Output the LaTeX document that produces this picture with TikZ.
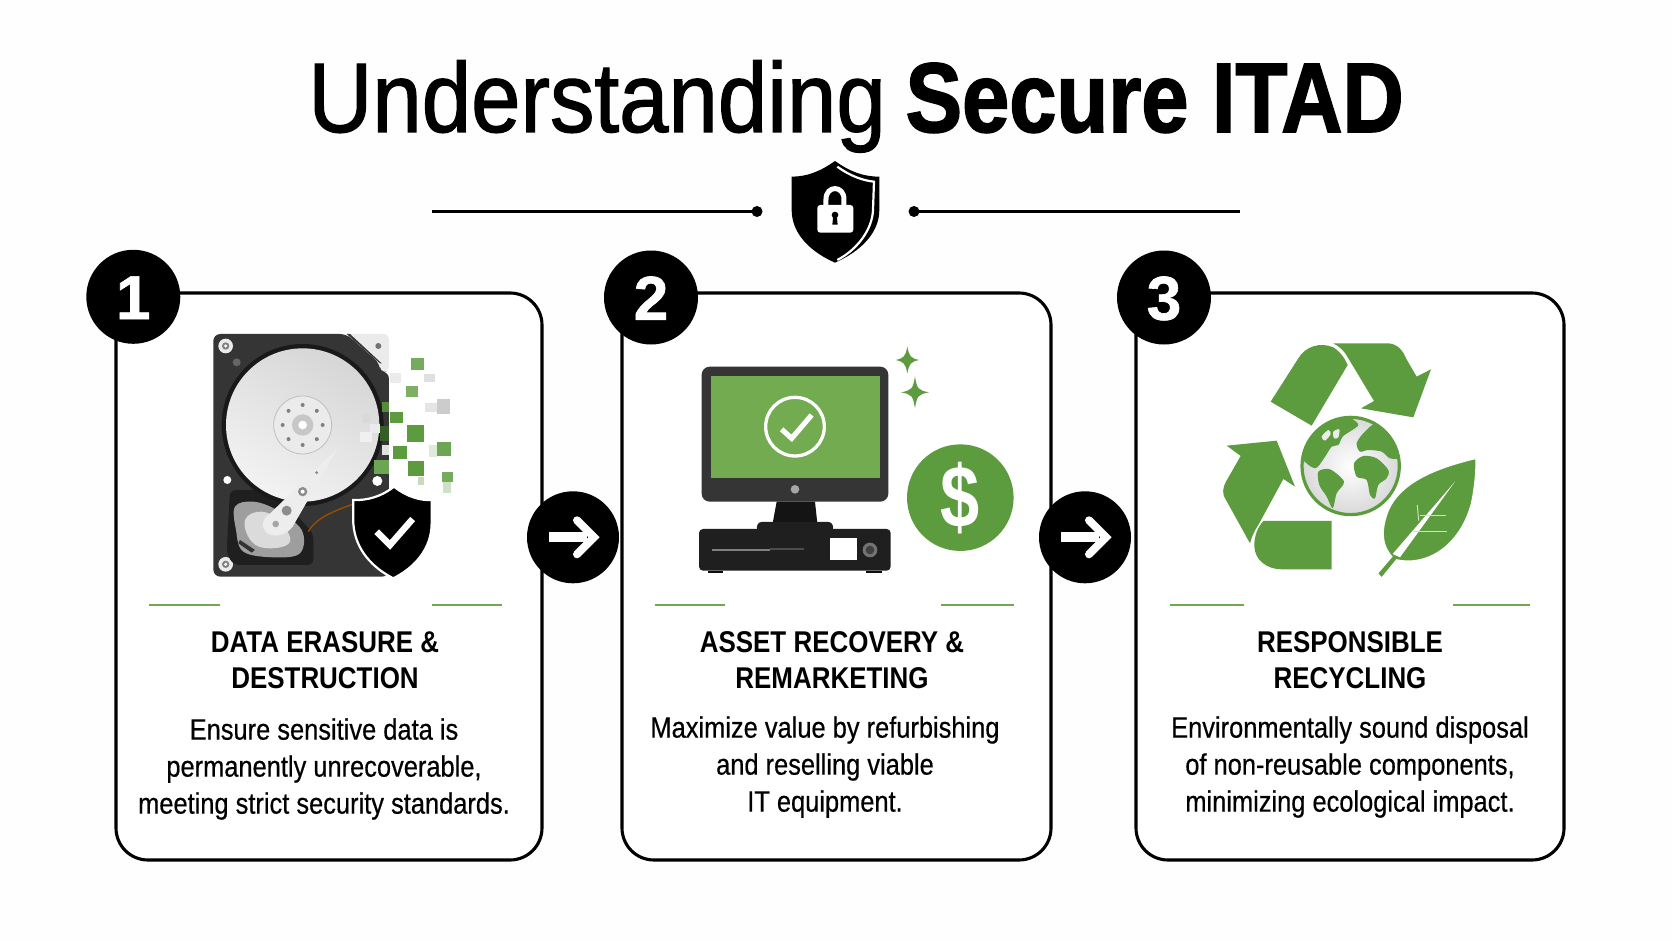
\documentclass[tikz,border=0pt]{standalone}
\usepackage{fontspec}
\setmainfont{Liberation Sans}
\newfontfamily\titlea[FakeStretch=0.897,FakeBold=1.2]{Liberation Sans}
\newfontfamily\titleb[FakeStretch=0.857,FakeBold=1.6]{Liberation Sans Bold}
\newfontfamily\headf[FakeStretch=0.865]{Liberation Sans Bold}
\newfontfamily\bodyf[FakeStretch=0.862,FakeBold=0.5]{Liberation Sans}
\newfontfamily\dolf[FakeStretch=0.80]{Liberation Sans Bold}
\newfontfamily\numf[FakeBold=1]{Liberation Sans Bold}
\usetikzlibrary{calc}
\definecolor{grn}{HTML}{5C9C3F}
\definecolor{scr}{HTML}{72AB50}
\definecolor{rule}{HTML}{6FA84F}
\definecolor{dark}{HTML}{353535}
\tikzset{
  cardbox/.style={draw=black,line width=3.1pt,rounded corners=32pt,fill=white,minimum width=426pt,minimum height=567pt,inner sep=0pt},
  numdisc/.style={circle,fill=black,text=white,minimum size=94pt,inner sep=0pt,text height=44.5pt,text depth=0pt,font=\numf\fontsize{62}{62}\selectfont},
  arrowdisc/.style={circle,fill=black,minimum size=92pt,inner sep=0pt},
  grule/.style={draw=rule,line width=2.2pt},
  headtxt/.style={align=center,inner sep=0pt,font=\headf\fontsize{30}{36}\selectfont},
  bodytxt/.style={align=center,inner sep=0pt,font=\bodyf\fontsize{29.5}{37}\selectfont},
  wline/.style={draw=white,line cap=round,line join=round},
}
\begin{document}
\begin{tikzpicture}[x=1pt,y=-1pt]
\useasboundingbox (0,0) rectangle (1672,941);
\fill[white!99.5!black] (0,0) rectangle (1672,941);

% title
\node[inner sep=0pt,anchor=base] (title) at (856,132) {\fontsize{99}{99}\selectfont\titlea Understanding\hspace{-5pt} {\titleb Secure ITAD}};

% top divider
\coordinate (la) at (432,211.5); \coordinate (lb) at (757,211.5);
\coordinate (ra) at (914,211.5); \coordinate (rb) at (1240,211.5);
\draw[line width=2.4pt] (la) -- (lb); \draw[line width=2.4pt] (ra) -- (rb);
\fill (lb) circle[radius=5.5]; \fill (ra) circle[radius=5.5];
\begin{scope}[shift={(700,150)},scale=0.3333]
\fill (405,33) .. controls (360,65) and (320,80) .. (275,80) -- (275,180) .. controls (275,250) and (330,305) .. (405,338) .. controls (480,305) and (538,250) .. (538,180) -- (538,80) .. controls (490,80) and (450,65) .. (405,33) -- cycle;
\draw[white,line width=2.2pt] (412,50) .. controls (450,78) and (490,92) .. (522,95) -- (519,180) .. controls (517,240) and (470,300) .. (412,330);
\fill[white,rounded corners=3pt] (352,165) rectangle (460,248);
\draw[white,line width=5pt] (378,170) -- (378,148) .. controls (378,105) and (432,105) .. (432,148) -- (432,170);
\fill (405,195) circle[radius=10];
\fill (400,195) -- (410,195) -- (413,224) -- (397,224) -- cycle;
\end{scope}

% cards
\node[cardbox] (card1) at (329,576.5) {};
\node[cardbox,minimum width=429pt] (card2) at (836.5,576.5) {};
\node[cardbox,minimum width=428pt] (card3) at (1350,576.5) {};

% green rules
\draw[grule] (149,605) -- (220,605); \draw[grule] (432,605) -- (502,605);
\draw[grule] (655,605) -- (725,605); \draw[grule] (941,605) -- (1014,605);
\draw[grule] (1170,605) -- (1244,605); \draw[grule] (1453,605) -- (1530,605);

% icon 1: hard disk
\begin{scope}[shift={(190,320)},scale=0.3333]
\fill[dark,rounded corners=7pt] (70,42) -- (470,42) -- (570,130) -- (570,155) -- (597,155) -- (597,770) -- (70,770) -- cycle;
\fill[black!8,rounded corners=5pt] (470,42) -- (597,42) -- (597,155) -- (570,155) -- (570,130) -- cycle;
\fill[dark] (470,42) -- (480,42) -- (575,130) -- (570,130) -- cycle;
\fill[black!55] (565,78) circle[radius=9];
\fill[white!92!black] (107,78) circle[radius=22]; \fill[black!50] (107,78) circle[radius=11]; \fill[white] (107,78) circle[radius=5];
\fill[white!92!black] (107,733) circle[radius=22]; \fill[black!50] (107,733) circle[radius=11]; \fill[white] (107,733) circle[radius=5];
\fill[white] (112,480) circle[radius=12];
\fill[black!60] (140,127) circle[radius=12];
% well
\fill[black!88,rounded corners=6pt] (120,510) -- (250,510) -- (370,640) -- (370,735) -- (130,735) -- (110,700) -- cycle;
\fill[black!90] (338,315) circle[radius=243];
\shade[left color=black!16,right color=black!5,shading angle=-30] (338,315) circle[radius=230];
\fill[white!92!black] (338,315) circle[radius=87];
\draw[black!25,line width=0.8pt] (338,315) circle[radius=87];
\foreach \a in {0,45,...,315} \fill[black!50] ($(338,315)+(\a:60)$) circle[radius=6];
\fill[black!22] (338,315) circle[radius=32];
\fill[white] (338,315) circle[radius=13];
% green pixels fading over the right edge
\fill[white] (597,150) rectangle (610,480);
\foreach \xa/\ya/\xb/\yb/\c in {
 510/335/545/365/black!6,540/312/570/340/black!8,518/283/540/310/black!15,
 575/375/597/405/black!12,
 575/245/597/275/grn!90!black,570/318/597/362/grn!60!black,552/420/597/462/grn!90,
 662/115/702/150/grn!85,648/198/685/232/grn!80,600/275/640/310/grn,650/316/702/365/grn,
 610/378/650/418/grn,655/422/703/468/grn,740/367/782/408/grn!90,755/455/788/485/grn!85,
 600/160/632/188/black!8,702/163/735/185/black!12,742/238/780/283/black!20,706/250/742/275/black!10,
 718/375/740/410/grn!20,758/485/782/520/grn!30,685/470/703/495/grn!35}
  \fill[\c] (\xa,\ya) rectangle (\xb,\yb);
% actuator
\fill[black!38] plot[smooth cycle,tension=.6] coordinates {(135,560) (190,545) (260,570) (335,630) (330,700) (250,712) (160,695) (138,630)};
\fill[black!14] plot[smooth cycle,tension=.7] coordinates {(165,600) (215,575) (270,605) (300,665) (240,685) (185,665)};
\fill[black!80] (150,660) -- (195,690) -- (185,698) -- (145,670) -- cycle;
\fill[white!93!black] (443,385) -- (225,595) .. controls (205,625) and (235,655) .. (270,645) .. controls (290,640) and (300,630) .. (308,620) -- cycle;
\fill[black!45] (338,515) circle[radius=14]; \fill[white] (338,515) circle[radius=6];
\fill[black!45] (290,572) circle[radius=15];
\fill[black!35] (257,612) circle[radius=10];
\fill[black!45] (380,458) circle[radius=5];
\draw[orange!60!black,line width=1.4pt] (355,635) .. controls (380,590) and (440,570) .. (510,545);
\fill[white] (562,483) circle[radius=15];
% shield with check
\draw[draw=white,line width=2.2pt,fill=black] (612,500) .. controls (575,530) and (530,542) .. (490,540) -- (490,610) .. controls (495,690) and (550,745) .. (610,775) .. controls (670,745) and (725,690) .. (725,610) -- (725,540) .. controls (690,542) and (650,530) .. (612,500) -- cycle;
\draw[wline,line width=6.5pt,line cap=butt,line join=miter] (560,635) -- (600,675) -- (668,597);
\end{scope}

% icon 2: computer
\begin{scope}[shift={(680,330)},scale=0.3333]
\fill[dark,rounded corners=8pt] (65,110) rectangle (625,515);
\fill[scr] (92,138) rectangle (600,443);
\draw[white,line width=3.3pt] (345,290) circle[radius=88];
\draw[wline,line width=5.2pt,line cap=butt,line join=miter] (305,298) -- (335,325) -- (395,255);
\fill[black!35] (345,478) circle[radius=13];
\fill[black!92] (290,515) -- (405,515) -- (412,580) -- (278,580) -- cycle;
\fill[black!88,rounded corners=3pt] (228,600) -- (235,576) -- (455,576) -- (462,600) -- cycle;
\fill[black!88,rounded corners=4pt] (57,597) rectangle (632,722);
\fill[black!95] (85,722) rectangle (130,728); \fill[black!95] (558,722) rectangle (605,728);
\draw[black!50,line width=1.4pt] (97,660) -- (270,660);
\draw[black!70,line width=2pt] (270,657) -- (372,657);
\fill[white] (450,625) rectangle (530,690);
\fill[black!55] (570,660) circle[radius=22]; \fill[black!75] (570,660) circle[radius=13];
\foreach \cx/\cy/\w/\h in {682/90/35/40,705/187/42/48}
  \fill[grn] (\cx,\cy-\h) .. controls (\cx+6,\cy-10) and (\cx+10,\cy-6) .. (\cx+\w,\cy) .. controls (\cx+10,\cy+6) and (\cx+6,\cy+10) .. (\cx,\cy+\h) .. controls (\cx-6,\cy+10) and (\cx-10,\cy+6) .. (\cx-\w,\cy) .. controls (\cx-10,\cy-6) and (\cx-6,\cy-10) .. (\cx,\cy-\h) -- cycle;
\node[circle,fill=grn,minimum size=106.6pt,inner sep=0pt,text=white,font=\dolf\fontsize{88}{88}\selectfont] (dollar) at (841,503) {\$};
\end{scope}

% icon 3: recycling
\begin{scope}[shift={(1200,330)},scale=0.3333]
\fill[grn] (212,215) -- (295,85) .. controls (315,50) and (360,35) .. (400,52) .. controls (420,65) and (435,85) .. (443,105) -- (335,287) -- cycle;
\fill[grn] (400,40) -- (565,40) .. controls (595,42) and (610,65) .. (618,85) -- (650,140) -- (693,118) -- (640,262) -- (483,235) -- (522,213) -- (445,85) .. controls (435,65) and (420,50) .. (400,40) -- cycle;
\fill[grn] (80,347) -- (230,332) -- (285,470) -- (250,447) -- (175,585) .. controls (162,605) and (155,620) .. (150,640) -- (78,510) .. controls (65,490) and (68,475) .. (78,455) -- (122,378) -- cycle;
\fill[grn] (190,573) -- (395,573) -- (395,718) -- (245,718) .. controls (200,718) and (165,690) .. (163,650) .. controls (162,615) and (175,590) .. (190,573) -- cycle;
% globe
\shade[inner color=white,outer color=black!15] (452,408) circle[radius=146];
\begin{scope}
\clip (452,408) circle[radius=146];
\fill[grn] plot[smooth cycle,tension=.5] coordinates {(305,385) (345,415) (372,385) (395,350) (415,345) (430,318) (475,285) (440,260) (390,265) (335,300) (305,350)};
\fill[grn] plot[smooth cycle,tension=.5] coordinates {(355,425) (390,418) (432,455) (410,490) (398,535) (380,500) (358,465)};
\fill[grn] plot[smooth cycle,tension=.5] coordinates {(462,400) (490,378) (530,385) (565,420) (560,445) (535,465) (525,505) (510,495) (500,450) (470,440)};
\fill[grn] plot[smooth cycle,tension=.5] coordinates {(470,340) (490,310) (530,280) (575,320) (600,380) (570,385) (545,365) (505,360) (480,365)};
\fill[white!92!black] plot[smooth cycle] coordinates {(400,305) (418,298) (415,322) (402,325)};
\fill[white!92!black] plot[smooth cycle] coordinates {(365,320) (385,300) (392,312) (375,332)};
\end{scope}
\draw[grn,line width=3.2pt] (452,408) circle[radius=146];
% leaf
\fill[grn,draw=white,line width=1.5pt] (828,385) .. controls (700,415) and (600,460) .. (565,540) .. controls (545,590) and (540,640) .. (575,680) -- (532,730) -- (545,745) -- (590,690) .. controls (680,710) and (780,650) .. (815,520) .. controls (825,470) and (830,420) .. (828,385) -- cycle;
\fill[white] (765,455) -- (600,682) -- (578,672) -- cycle;
\draw[white!70!grn,line width=1pt] (652,525) -- (656,572);
\draw[white!70!grn,line width=1pt] (660,556) -- (738,556);
\draw[white!70!grn,line width=1pt] (640,605) -- (740,605);
\end{scope}

% step discs
\node[numdisc] (n1) at (133.3,296.8) {1};
\node[numdisc] (n2) at (651,297.5) {2};
\node[numdisc] (n3) at (1164,297.5) {3};

% arrow discs
\foreach \nm/\px in {a1/573,a2/1085}{
  \node[arrowdisc] (\nm) at (\px,537.3) {};
  \begin{scope}[shift={(\nm.center)}]
    \fill[white] (-24,-5) -- (14,-5) -- (14,5) -- (-24,5) -- cycle;
    \draw[wline,line width=8pt,line join=miter] (4,-17) -- (21,0) -- (4,17);
  \end{scope}
}

% headings
\node[headtxt] (h1) at (325,660.5) {DATA ERASURE \&\\DESTRUCTION};
\node[headtxt] (h2) at (832,660.5) {ASSET RECOVERY \&\\REMARKETING};
\node[headtxt] (h3) at (1350,660.5) {RESPONSIBLE\\RECYCLING};

% descriptions
\node[bodytxt] (b1) at (324,769) {Ensure sensitive data is\\permanently unrecoverable,\\meeting strict security standards.};
\node[bodytxt] (b2) at (825,767) {Maximize value by refurbishing\\and reselling viable\\IT equipment.};
\node[bodytxt] (b3) at (1350,767) {Environmentally sound disposal\\of non-reusable components,\\minimizing ecological impact.};
\end{tikzpicture}
\end{document}
